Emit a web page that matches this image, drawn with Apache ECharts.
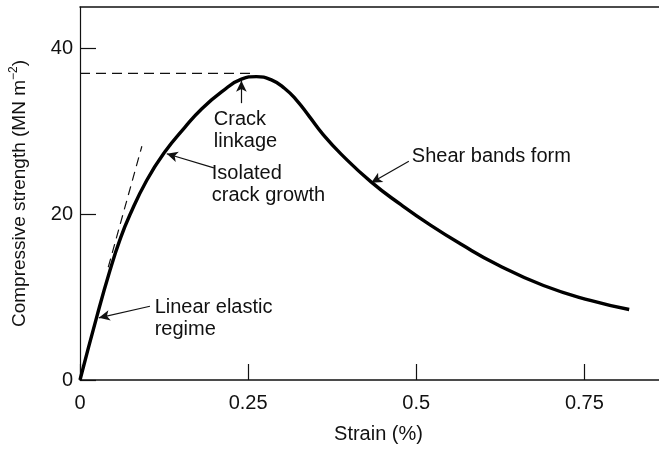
<!DOCTYPE html>
<html>
<head>
<meta charset="utf-8">
<script src="https://cdn.jsdelivr.net/npm/echarts@6/dist/echarts.min.js"></script>
<style>
  html, body { margin: 0; padding: 0; background: #fff; }
  #chart { width: 659px; height: 449px; }
</style>
</head>
<body>
<div id="chart"></div>
<script>
// Stress–strain curve for a brittle solid in compression
const strain = [0, 0.0252, 0.0445, 0.0593, 0.0741, 0.0993, 0.126, 0.1556, 0.1808, 0.2105, 0.2401, 0.2623, 0.2846, 0.304, 0.3216, 0.3409, 0.3616, 0.3883, 0.4328, 0.4773, 0.5217, 0.5662, 0.621, 0.6892, 0.7589, 0.8167];
const stress = [0, 7.7, 13.2, 16.9, 19.9, 24.1, 27.5, 30.45, 32.7, 34.75, 36.3, 36.6, 36.2, 35.2, 33.8, 31.8, 29.6, 27.25, 23.9, 21.15, 18.65, 16.4, 13.9, 11.4, 9.6, 8.5];

// Initial elastic tangent (dashed)
const tangentStrain = [0.042, 0.092];
const tangentStress = [13.6, 28.2];

// Peak strength level (dashed)
const peakStrain = [0, 0.255];
const peakStress = [37.0, 37.0];

const xTicks = [0, 0.25, 0.5, 0.75];
const yTicks = [0, 20, 40];

// Annotations: text, text anchor (strain, stress), arrow tail and arrow tip
const noteText = ['Linear elastic\nregime', 'Crack\nlinkage', 'Isolated\ncrack growth', 'Shear bands form'];
const noteAnchor = [[0.111, 10.1], [0.199, 32.8], [0.196, 26.3], [0.4935, 28.3]];
const arrowTail = [[0.104, 8.9], [0.240, 33.4], [0.199, 25.6], [0.489, 26.4]];
const arrowTip = [[0.028, 7.5], [0.240, 36.1], [0.129, 27.3], [0.433, 23.8]];

const FONT = '"Liberation Sans", Arial, sans-serif';
const FS = 20;

const zip = (a, b) => a.map((v, i) => [v, b[i]]);

const chart = echarts.init(document.getElementById('chart'), null, { renderer: 'canvas' });

const option = {
  backgroundColor: '#fff',
  animation: false,
  grid: { left: 78, right: 0, top: 7, bottom: 64.5, containLabel: false },
  xAxis: [{
    type: 'value',
    min: 0, max: 0.861, interval: 0.25,
    name: 'Strain (%)',
    nameLocation: 'middle',
    nameGap: 44,
    nameTextStyle: { fontFamily: FONT, fontSize: FS, color: '#111', padding: [0, 0, 0, 18] },
    axisLine: { show: true, lineStyle: { color: '#111', width: 1.5 } },
    axisTick: { show: true, inside: true, length: 16, lineStyle: { color: '#111', width: 1.2 },
      customValues: xTicks },
    axisLabel: { fontFamily: FONT, fontSize: FS, color: '#111', margin: 13,
      customValues: xTicks,
      formatter: v => (v === 0 ? '0' : String(v)) },
    splitLine: { show: false }
  }, {
    type: 'value', position: 'top',
    min: 0, max: 0.861,
    axisLine: { show: true, lineStyle: { color: '#111', width: 1.5 } },
    axisTick: { show: false }, axisLabel: { show: false }, splitLine: { show: false }
  }],
  yAxis: {
    type: 'value',
    min: 0, max: 45, interval: 20,
    name: '{t|Compressive strength (MN m}{s|−2}{t|)}',
    nameLocation: 'middle',
    nameRotate: 90,
    nameGap: 48,
    nameTextStyle: {
      fontFamily: FONT, fontSize: 19, color: '#111',
      rich: {
        t: { fontFamily: FONT, fontSize: 19, color: '#111' },
        s: { fontFamily: FONT, fontSize: 12, color: '#111', padding: [0, 0, 12, 0] }
      }
    },
    axisLine: { show: true, lineStyle: { color: '#111', width: 1.2 } },
    axisTick: { show: true, inside: true, length: 16, lineStyle: { color: '#111', width: 1.2 },
      customValues: yTicks },
    axisLabel: { fontFamily: FONT, fontSize: FS, color: '#111', margin: 7,
      customValues: yTicks },
    splitLine: { show: false }
  },
  series: [
    {
      type: 'line',
      data: zip(strain, stress),
      smooth: 0.5,
      showSymbol: false, symbol: 'none',
      lineStyle: { color: '#000', width: 3.4 },
      z: 5
    },
    {
      type: 'line',
      data: zip(tangentStrain, tangentStress),
      showSymbol: false, symbol: 'none',
      lineStyle: { color: '#111', width: 1.2, type: [9, 6] },
      z: 3
    },
    {
      type: 'line',
      data: zip(peakStrain, peakStress),
      showSymbol: false, symbol: 'none',
      lineStyle: { color: '#111', width: 1.2, type: [10, 6] },
      z: 3
    },
    {
      type: 'line',
      data: [],
      markLine: {
        silent: true,
        symbol: ['none', 'arrow'],
        symbolSize: [8, 11],
        label: { show: false },
        lineStyle: { color: '#111', width: 1.2, type: 'solid' },
        data: arrowTail.map((t, i) => [{ coord: t }, { coord: arrowTip[i] }])
      },
      z: 4
    }
  ]
};

chart.setOption(option);

// Annotation text placed at data coordinates
chart.setOption({
  graphic: noteText.map((txt, i) => {
    const p = chart.convertToPixel({ xAxisIndex: 0, yAxisIndex: 0 }, noteAnchor[i]);
    return {
      type: 'text',
      x: p[0], y: p[1],
      style: {
        text: txt,
        fontFamily: FONT,
        fontSize: FS,
        lineHeight: 22,
        fill: '#111',
        textAlign: 'left',
        textVerticalAlign: 'top'
      },
      z: 10
    };
  })
});
</script>
</body>
</html>
